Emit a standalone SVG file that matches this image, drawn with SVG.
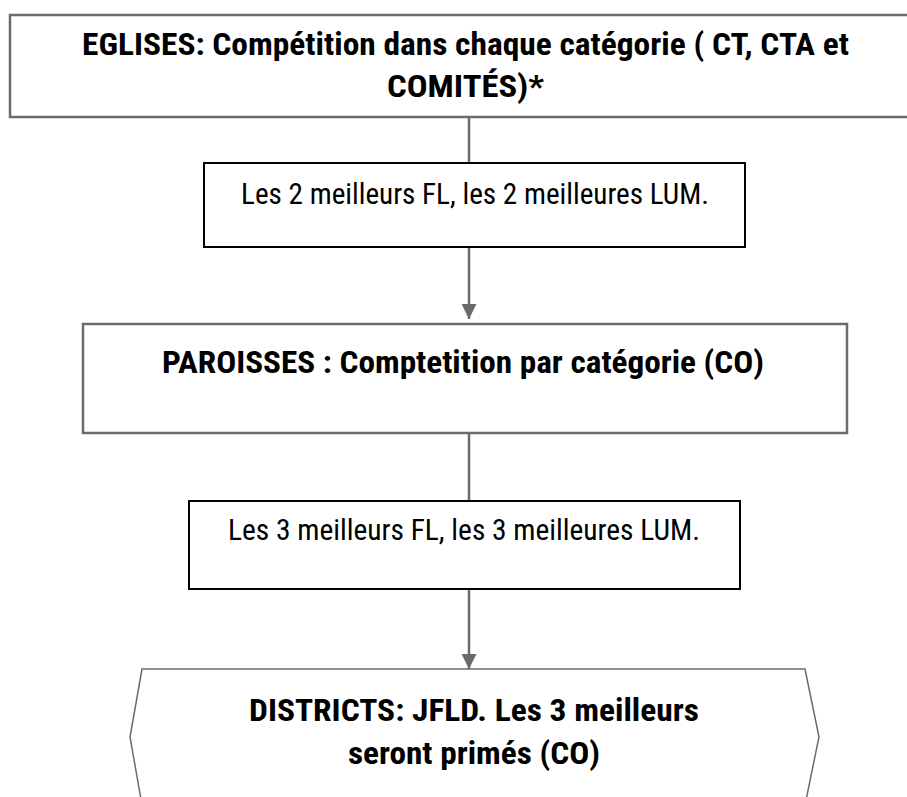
<svg xmlns="http://www.w3.org/2000/svg" width="907" height="797" viewBox="0 0 907 797">
<style>
.b{font-family:"Roboto Condensed",Roboto,"Liberation Sans",sans-serif;font-weight:700;font-size:31px;fill:#000;text-anchor:middle}
.r{font-family:"Roboto Condensed",Roboto,"Liberation Sans",sans-serif;font-weight:400;font-size:30px;fill:#000;text-anchor:middle}
.g{fill:#fff;stroke:#6b6b6b;stroke-width:2.5}
.k{fill:#fff;stroke:#000;stroke-width:2}
.c{stroke:#6b6b6b;stroke-width:2.5;fill:none}
</style>
<defs>
<marker id="ah" markerWidth="15" markerHeight="15" refX="15" refY="7.5" orient="auto" markerUnits="userSpaceOnUse">
<path d="M0,0 L15,7.5 L0,15 Z" fill="#6b6b6b"/>
</marker>
</defs>
<rect width="907" height="797" fill="#fff"/>
<g id="connectors">
<line class="c" x1="469" y1="117" x2="469" y2="163"/>
<line class="c" x1="469" y1="247" x2="469" y2="319" marker-end="url(#ah)"/>
<line class="c" x1="469" y1="433" x2="469" y2="501"/>
<line class="c" x1="469" y1="589" x2="469" y2="669" marker-end="url(#ah)"/>
</g>
<g id="eglises">
<rect class="g" x="10" y="15" width="920" height="102"/>
<text class="b" x="465.5" y="55" textLength="767" lengthAdjust="spacingAndGlyphs">EGLISES: Compétition dans chaque catégorie ( CT, CTA et</text>
<text class="b" x="465.5" y="97" textLength="157" lengthAdjust="spacingAndGlyphs">COMITÉS)*</text>
</g>
<g id="top2">
<rect class="k" x="204" y="163" width="541" height="84"/>
<text class="r" x="475" y="204" textLength="468" lengthAdjust="spacingAndGlyphs">Les 2 meilleurs FL, les 2 meilleures LUM.</text>
</g>
<g id="paroisses">
<rect class="g" x="83" y="324" width="764" height="109"/>
<text class="b" x="463" y="373" textLength="602" lengthAdjust="spacingAndGlyphs">PAROISSES : Comptetition par catégorie (CO)</text>
</g>
<g id="top3">
<rect class="k" x="189" y="501" width="551" height="88"/>
<text class="r" x="464" y="540" textLength="472" lengthAdjust="spacingAndGlyphs">Les 3 meilleurs FL, les 3 meilleures LUM.</text>
</g>
<g id="districts">
<path d="M142,669 L805,669 L819,737 L805,805 L142,805 L130,737 Z" fill="#fff" stroke="#6b6b6b" stroke-width="1.5"/>
<text class="b" x="474" y="721" textLength="450" lengthAdjust="spacingAndGlyphs">DISTRICTS: JFLD. Les 3 meilleurs</text>
<text class="b" x="474" y="764" textLength="252" lengthAdjust="spacingAndGlyphs">seront primés (CO)</text>
</g>
</svg>
